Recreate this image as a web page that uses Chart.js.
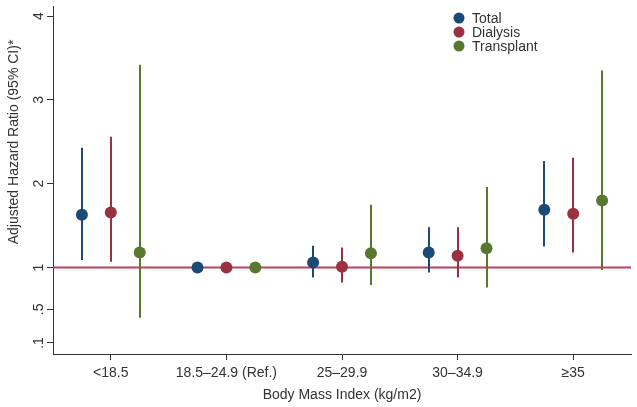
<!DOCTYPE html>
<html>
<head>
<meta charset="utf-8">
<script src="https://cdn.jsdelivr.net/npm/chart.js@4/dist/chart.umd.min.js"></script>
<style>
  html, body { margin: 0; padding: 0; background: #fff; }
  #wrap { width: 637px; height: 407px; }
</style>
</head>
<body>
<div id="wrap"><canvas id="canvas" width="637" height="407"></canvas></div>
<script>
// BMI categories on the x axis
const categories = ['<18.5', '18.5–24.9 (Ref.)', '25–29.9', '30–34.9', '≥35']

// hazard ratios with 95% CI (ref. group has no interval)
const totalHR = [1.63, 1.00, 1.06, 1.18, 1.69]
const totalLo = [1.09, null, 0.88, 0.94, 1.25]
const totalHi = [2.43, null, 1.26, 1.48, 2.27]

const dialysisHR = [1.655, 1.00, 1.01, 1.14, 1.64]
const dialysisLo = [1.07, null, 0.82, 0.88, 1.18]
const dialysisHi = [2.56, null, 1.24, 1.48, 2.31]

const transplantHR = [1.18, 1.00, 1.17, 1.23, 1.80]
const transplantLo = [0.40, null, 0.79, 0.76, 0.97]
const transplantHi = [3.42, null, 1.75, 1.96, 3.35]

const yTicks = [0.1, 0.5, 1, 2, 3, 4]
const yTickLabels = ['.1', '.5', '1', '2', '3', '4']
const refValue = 1

const series = [
    { label: 'Total', color: '#1a4a75', hr: totalHR, lo: totalLo, hi: totalHi, shift: -0.25 },
    { label: 'Dialysis', color: '#9a3140', hr: dialysisHR, lo: dialysisLo, hi: dialysisHi, shift: 0 },
    { label: 'Transplant', color: '#58782f', hr: transplantHR, lo: transplantLo, hi: transplantHi, shift: 0.25 }
]

const textColor = '#333'
const font = 'Liberation Sans, Arial, sans-serif'

var datasets = series.map(s => ({
    label: s.label,
    data: s.hr.map((v, i) => ({ x: i + s.shift, y: v })),
    backgroundColor: s.color,
    borderColor: s.color,
    pointRadius: 6,
    pointHoverRadius: 6,
    borderWidth: 0,
    showLine: false
}))

// reference line + CI whiskers, drawn under the dots
const whiskers = {
    id: 'whiskers',
    beforeDatasetsDraw: (chart) => {
        const { ctx, chartArea, scales } = chart
        const x = scales.x, y = scales.y
        ctx.save()
        ctx.strokeStyle = '#c23d5e'
        ctx.lineWidth = 2
        ctx.beginPath()
        ctx.moveTo(chartArea.left, y.getPixelForValue(refValue))
        ctx.lineTo(chartArea.right, y.getPixelForValue(refValue))
        ctx.stroke()

        series.forEach(s => {
            ctx.strokeStyle = s.color
            ctx.lineWidth = 2
            for (let i = 0; i < s.hr.length; i++) {
                if (s.lo[i] === null) continue
                const px = Math.round(x.getPixelForValue(i + s.shift))
                ctx.beginPath()
                ctx.moveTo(px, y.getPixelForValue(s.lo[i]))
                ctx.lineTo(px, y.getPixelForValue(s.hi[i]))
                ctx.stroke()
            }
        })
        ctx.restore()
    }
}

// rotated y tick labels, y title and the legend box (Stata look)
const decorations = {
    id: 'decorations',
    afterDraw: (chart) => {
        const { ctx, scales } = chart
        const y = scales.y
        ctx.save()
        ctx.fillStyle = textColor
        ctx.font = '14px ' + font
        ctx.textAlign = 'center'
        ctx.textBaseline = 'middle'
        yTicks.forEach((v, i) => {
            ctx.save()
            ctx.translate(39, y.getPixelForValue(v))
            ctx.rotate(-Math.PI / 2)
            ctx.fillText(yTickLabels[i], 0, 0)
            ctx.restore()
        })

        ctx.save()
        ctx.translate(14, 142)
        ctx.rotate(-Math.PI / 2)
        ctx.fillText('Adjusted Hazard Ratio (95% CI)*', 0, 0)
        ctx.restore()

        ctx.textAlign = 'left'
        series.forEach((s, i) => {
            const cy = 18 + i * 14
            ctx.fillStyle = s.color
            ctx.beginPath()
            ctx.arc(459, cy, 5.5, 0, Math.PI * 2)
            ctx.fill()
            ctx.fillStyle = textColor
            ctx.fillText(s.label, 472, cy + 1)
        })
        ctx.restore()
    }
}

var canvas = document.getElementById('canvas')

var chart = new Chart(canvas, {
    type: 'scatter',
    data: { datasets: datasets },
    options: {
        responsive: false,
        animation: false,
        layout: { padding: { top: 4, right: 4, left: 0, bottom: 0 } },
        plugins: {
            legend: { display: false },
            tooltip: { enabled: false }
        },
        scales: {
            x: {
                type: 'linear',
                min: -0.5,
                max: 4.5,
                afterBuildTicks: (scale) => {
                    scale.ticks = categories.map((c, i) => ({ value: i }))
                },
                afterFit: (scale) => { scale.height = 53 },
                ticks: {
                    autoSkip: false,
                    maxRotation: 0,
                    padding: 5,
                    color: textColor,
                    font: { family: font, size: 14 },
                    callback: (v) => categories[v]
                },
                grid: {
                    drawOnChartArea: false,
                    drawTicks: true,
                    tickLength: 6,
                    color: '#333'
                },
                border: { display: true, color: '#333', width: 1 },
                title: {
                    display: true,
                    text: 'Body Mass Index (kg/m2)',
                    color: textColor,
                    font: { family: font, size: 14 },
                    padding: { top: 2, bottom: 3 }
                }
            },
            y: {
                type: 'linear',
                min: -0.032,
                max: 4.12,
                afterBuildTicks: (scale) => {
                    scale.ticks = yTicks.map(v => ({ value: v }))
                },
                afterFit: (scale) => { scale.width = 53 },
                ticks: { display: false },
                grid: {
                    drawOnChartArea: false,
                    drawTicks: true,
                    tickLength: 6,
                    color: '#333'
                },
                border: { display: true, color: '#333', width: 1 }
            }
        }
    },
    plugins: [whiskers, decorations]
})
</script>
</body>
</html>
